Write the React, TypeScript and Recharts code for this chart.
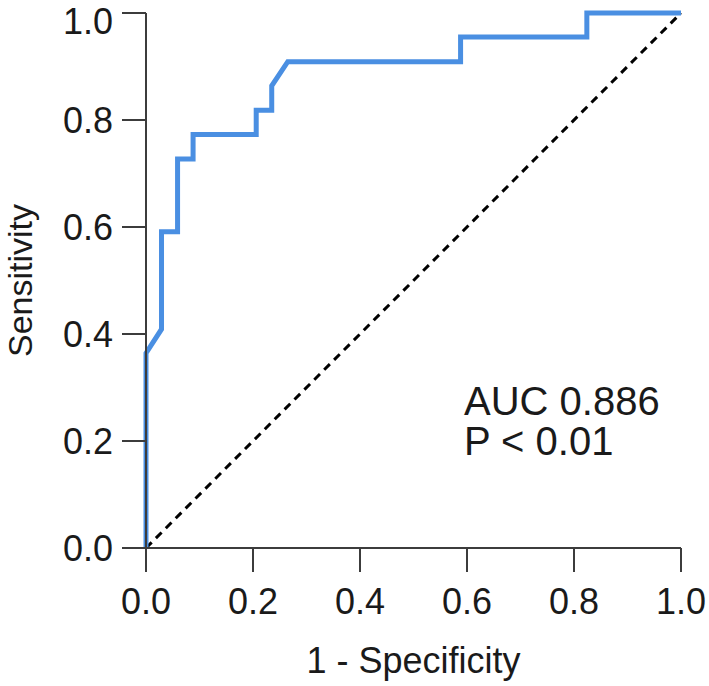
import React from 'react';
import { LineChart, Line, XAxis, YAxis, Label } from 'recharts';

// ROC curve (1 - specificity, sensitivity)
const rocFpr = [0, 0, 0.029, 0.029, 0.059, 0.059, 0.088, 0.088, 0.206, 0.206, 0.235, 0.235, 0.265, 0.588, 0.588, 0.824, 0.824, 1];
const rocTpr = [0, 0.364, 0.409, 0.591, 0.591, 0.727, 0.727, 0.773, 0.773, 0.818, 0.818, 0.864, 0.909, 0.909, 0.955, 0.955, 1, 1];

// chance line
const refFpr = [0, 1];
const refTpr = [0, 1];

const axisTicks = [0, 0.2, 0.4, 0.6, 0.8, 1];
const statLines = ['AUC 0.886', 'P < 0.01'];

const FONT = '"Liberation Sans", Arial, sans-serif';
const AXIS_COLOR = '#3c3c3c';
const TEXT_COLOR = '#1a1a1a';

const rocData = rocFpr.map((x, i) => ({ x, y: rocTpr[i] }));
const refData = refFpr.map((x, i) => ({ x, y: refTpr[i] }));

const tickStyle = { fontSize: 36, fill: TEXT_COLOR, fontFamily: FONT };

export default function App() {
  return (
    <div style={{ position: 'absolute', left: 0, top: 0, width: 709, height: 686, fontFamily: FONT }}>
      <LineChart width={709} height={686} margin={{ top: 13, right: 28, left: 0, bottom: 0 }}>
        <XAxis
          type="number"
          dataKey="x"
          domain={[0, 1]}
          ticks={axisTicks}
          tickFormatter={(v: number) => v.toFixed(1)}
          height={138}
          tickSize={24}
          tickMargin={16}
          stroke={AXIS_COLOR}
          strokeWidth={2}
          tick={tickStyle}
          allowDuplicatedCategory={false}
        >
          <Label
            value="1 - Specificity"
            position="insideBottom"
            offset={13}
            style={{ fontSize: 36, fill: TEXT_COLOR, fontFamily: FONT }}
          />
        </XAxis>
        <YAxis
          type="number"
          dataKey="y"
          domain={[0, 1]}
          ticks={axisTicks}
          tickFormatter={(v: number) => v.toFixed(1)}
          width={146}
          tickSize={24}
          tickMargin={9}
          stroke={AXIS_COLOR}
          strokeWidth={2}
          tick={tickStyle}
        >
          <Label
            content={({ viewBox }: any) => {
              const cy = viewBox.y + viewBox.height / 2;
              return (
                <text
                  x={32}
                  y={cy}
                  transform={`rotate(-90, 32, ${cy})`}
                  textAnchor="middle"
                  fontSize={34}
                  fill={TEXT_COLOR}
                  fontFamily={FONT}
                >
                  Sensitivity
                </text>
              );
            }}
          />
        </YAxis>
        <Line
          data={refData}
          dataKey="y"
          type="linear"
          stroke="#000000"
          strokeWidth={3}
          strokeDasharray="8 6"
          dot={false}
          activeDot={false}
          isAnimationActive={false}
        />
        <Line
          data={rocData}
          dataKey="y"
          type="linear"
          stroke="#4a8fe2"
          strokeWidth={5}
          dot={false}
          activeDot={false}
          isAnimationActive={false}
        />
      </LineChart>
      {statLines.map((s, i) => (
        <div
          key={s}
          style={{
            position: 'absolute',
            left: 464,
            top: 381 + i * 40,
            fontSize: 40,
            lineHeight: '40px',
            color: TEXT_COLOR,
            whiteSpace: 'nowrap',
          }}
        >
          {s}
        </div>
      ))}
    </div>
  );
}
